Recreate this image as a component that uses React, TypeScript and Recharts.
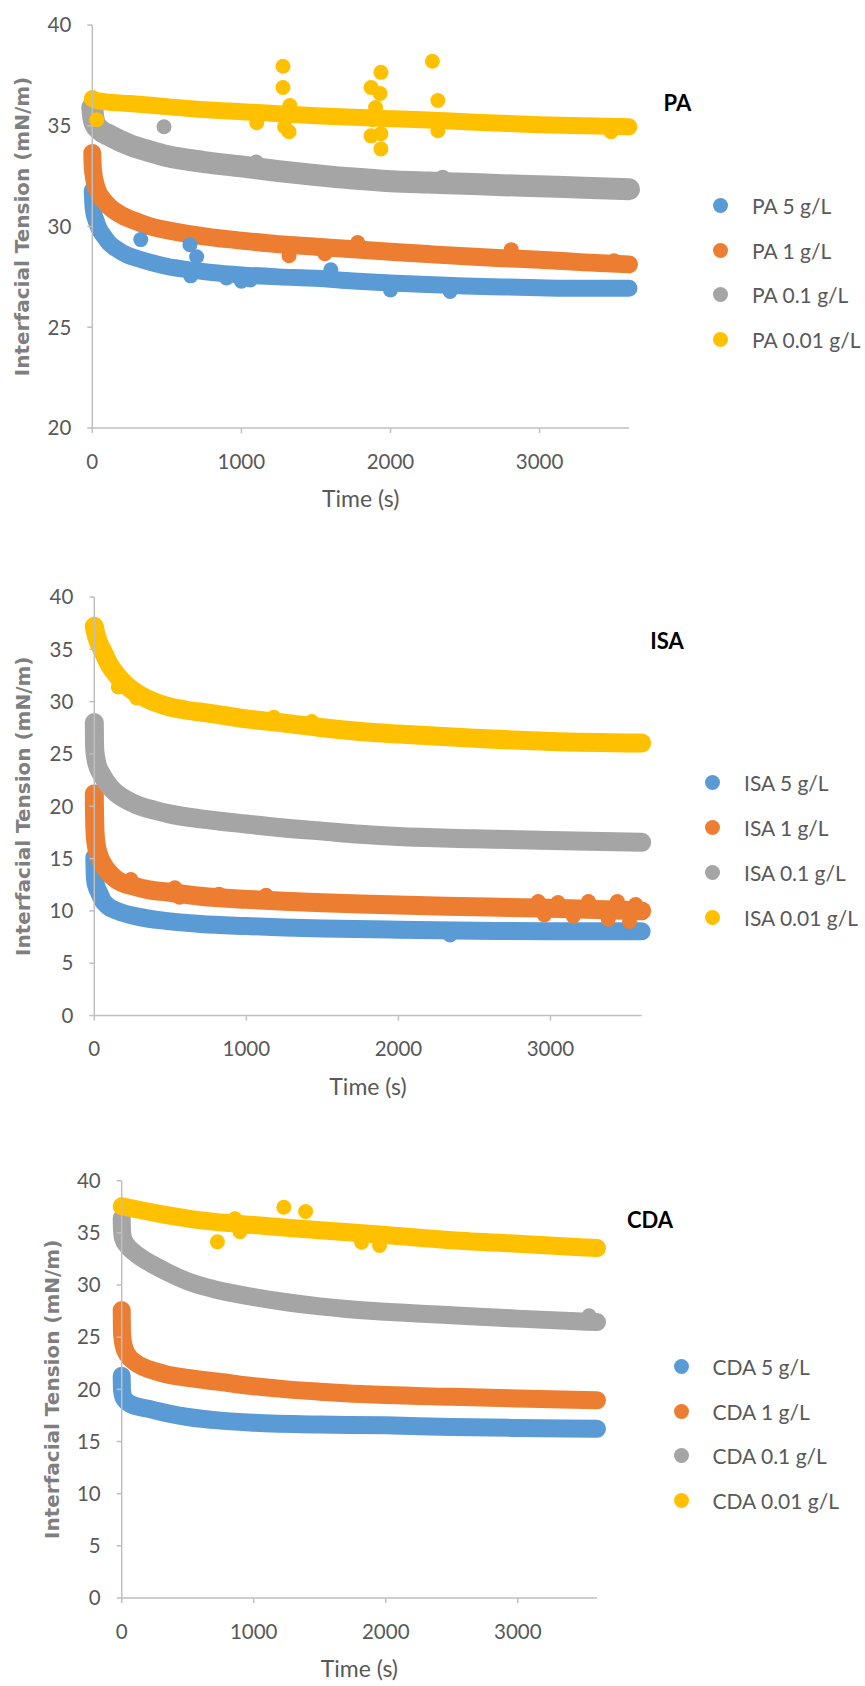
import React from 'react';
import { ComposedChart, Line, Scatter, XAxis, YAxis, Legend, Label } from 'recharts';

type Pt = [number, number];

// Office palette: 5 g/L, 1 g/L, 0.1 g/L, 0.01 g/L
const COLORS = ['#5B9BD5', '#ED7D31', '#A5A5A5', '#FFC000'];
const AXIS = '#BFBFBF';
const TEXT = '#595959';

const concLabels = ['5 g/L', '1 g/L', '0.1 g/L', '0.01 g/L'];
const timeTicks = [0, 1000, 2000, 3000];
const paTicks = [20, 25, 30, 35, 40];
const fullTicks = [0, 5, 10, 15, 20, 25, 30, 35, 40];

// ---- PA ----
const pa5: Pt[] = [[0, 31.8], [3, 31.2], [10, 30.7], [25, 30.3], [45, 29.9], [75, 29.55], [110, 29.2], [160, 28.9], [230, 28.6], [307, 28.4], [400, 28.2], [500, 28.02], [650, 27.85], [800, 27.72], [1000, 27.6], [1250, 27.5], [1500, 27.43], [1750, 27.3], [2000, 27.2], [2250, 27.12], [2500, 27.05], [2750, 27.0], [3000, 26.96], [3300, 26.93], [3600, 26.93]];
const pa5Extra: Pt[] = [[325, 29.35], [655, 29.1], [700, 28.5], [660, 27.55], [900, 27.45], [1000, 27.28], [1060, 27.35], [1600, 27.85], [2000, 26.85], [2400, 26.78]];
const pa1: Pt[] = [[0, 33.65], [2, 33.1], [8, 32.6], [20, 32.15], [40, 31.7], [70, 31.35], [120, 30.95], [200, 30.55], [307, 30.22], [400, 29.98], [500, 29.82], [650, 29.62], [800, 29.46], [1000, 29.3], [1250, 29.12], [1500, 29.0], [1750, 28.87], [2000, 28.75], [2250, 28.63], [2500, 28.52], [2750, 28.43], [3000, 28.35], [3300, 28.22], [3600, 28.12]];
const pa1Extra: Pt[] = [[1320, 28.55], [1560, 28.65], [1780, 29.2], [2810, 28.85], [3500, 28.3]];
const pa01: Pt[] = [[0, 35.9], [5, 35.5], [18, 35.1], [50, 34.8], [120, 34.5], [250, 34.05], [400, 33.7], [500, 33.5], [750, 33.2], [1000, 32.98], [1250, 32.75], [1500, 32.55], [1750, 32.38], [2000, 32.25], [2250, 32.18], [2500, 32.12], [2750, 32.05], [3000, 32.0], [3300, 31.92], [3600, 31.85]];
const pa01Extra: Pt[] = [[481, 34.95], [1100, 33.2], [2350, 32.45]];
const pa001: Pt[] = [[0, 36.35], [30, 36.25], [250, 36.1], [500, 35.95], [750, 35.8], [1000, 35.7], [1250, 35.6], [1500, 35.5], [1750, 35.42], [2000, 35.35], [2250, 35.28], [2500, 35.2], [2750, 35.12], [3000, 35.05], [3300, 35.0], [3600, 34.95]];
const pa001Extra: Pt[] = [[30, 35.3], [1103, 35.15], [1279, 37.95], [1279, 36.9], [1325, 36.0], [1290, 34.95], [1320, 34.7], [1870, 36.9], [1936, 37.65], [1930, 36.6], [1900, 35.9], [1880, 35.3], [1870, 34.5], [1936, 34.6], [1936, 33.85], [2281, 38.2], [2318, 36.25], [2318, 34.75], [3480, 34.7]];

// ---- ISA ----
const isa5: Pt[] = [[0, 15.1], [2, 13.9], [5, 13.0], [15, 12.3], [30, 11.8], [55, 11.0], [85, 10.5], [150, 10.0], [285, 9.45], [467, 9.05], [700, 8.75], [1000, 8.55], [1250, 8.42], [1500, 8.32], [2000, 8.2], [2500, 8.1], [3000, 8.05], [3600, 8.05]];
const isa5Extra: Pt[] = [[2340, 7.7]];
const isa1: Pt[] = [[0, 21.2], [1, 19.8], [3, 18.2], [10, 16.6], [30, 15.3], [55, 14.5], [100, 13.6], [155, 12.9], [250, 12.4], [360, 12.0], [480, 11.8], [700, 11.4], [1000, 11.1], [1250, 10.92], [1500, 10.78], [1750, 10.65], [2000, 10.55], [2500, 10.4], [3000, 10.25], [3600, 10.0]];
const isa1Extra: Pt[] = [[240, 13.0], [530, 12.2], [560, 11.3], [820, 11.6], [1130, 11.5], [2920, 10.9], [2960, 9.6], [3050, 10.8], [3150, 9.5], [3250, 10.9], [3380, 9.2], [3440, 10.9], [3520, 9.0], [3560, 10.6]];
const isa01: Pt[] = [[0, 28.0], [1, 26.5], [3, 25.4], [15, 24.2], [50, 23.0], [100, 21.9], [140, 21.3], [200, 20.7], [285, 20.1], [400, 19.6], [500, 19.25], [700, 18.8], [1000, 18.3], [1250, 17.92], [1500, 17.62], [1750, 17.32], [2000, 17.1], [2500, 16.9], [3000, 16.72], [3600, 16.55]];
const isa001: Pt[] = [[0, 37.2], [10, 36.5], [30, 35.6], [60, 34.7], [100, 33.5], [150, 32.5], [200, 31.7], [260, 31.0], [350, 30.25], [470, 29.6], [600, 29.2], [750, 28.9], [1000, 28.35], [1250, 27.95], [1500, 27.5], [1750, 27.15], [2000, 26.9], [2500, 26.5], [3000, 26.2], [3600, 26.05]];
const isa001Extra: Pt[] = [[158, 31.4], [279, 30.35], [1181, 28.5], [1430, 28.1], [1550, 27.3]];

// ---- CDA ----
const cda5: Pt[] = [[0, 21.3], [2, 20.0], [15, 19.2], [66, 18.6], [210, 18.12], [350, 17.7], [500, 17.35], [750, 17.0], [1000, 16.8], [1500, 16.62], [2000, 16.55], [2500, 16.38], [3000, 16.3], [3600, 16.22]];
const cda1: Pt[] = [[0, 27.6], [1, 26.3], [3, 25.3], [15, 24.2], [45, 23.3], [100, 22.6], [170, 22.1], [250, 21.75], [335, 21.45], [500, 21.1], [750, 20.7], [1000, 20.3], [1250, 20.0], [1500, 19.78], [2000, 19.45], [2500, 19.28], [3000, 19.12], [3600, 18.95]];
const cda01: Pt[] = [[0, 36.4], [2, 35.3], [10, 34.5], [40, 33.8], [87, 33.2], [150, 32.6], [230, 32.0], [350, 31.2], [500, 30.35], [700, 29.6], [1000, 28.85], [1250, 28.35], [1500, 27.95], [1750, 27.65], [2000, 27.43], [2500, 27.1], [3000, 26.78], [3600, 26.45]];
const cda01Extra: Pt[] = [[3540, 27.05]];
const cda001: Pt[] = [[0, 37.55], [300, 36.8], [600, 36.2], [850, 35.9], [1000, 35.75], [1500, 35.25], [2000, 34.8], [2500, 34.3], [3000, 33.95], [3600, 33.55]];
const cda001Extra: Pt[] = [[725, 34.15], [1228, 37.45], [1393, 37.05], [858, 36.35], [896, 35.1], [1817, 34.1], [1953, 33.8]];

const toRows = (pts: Pt[]) => pts.map(([t, v]) => ({ t, v }));

const panels = [
  {
    name: 'PA', top: 0, height: 520, yDomain: [20, 40], yTicks: paTicks, yTitleX: 22,
    margin: { top: 25, right: 236, bottom: 52, left: 32.3 },
    series: [pa5, pa1, pa01, pa001], extras: [pa5Extra, pa1Extra, pa01Extra, pa001Extra],
    widths: [17, 18, 22, 17],
    legend: { x: 713, y: 183, step: 44.7 }, title: { x: 677.5, y: 102 },
  },
  {
    name: 'ISA', top: 560, height: 560, yDomain: [0, 40], yTicks: fullTicks, yTitleX: 23,
    margin: { top: 37, right: 223.3, bottom: 64.5, left: 34.3 },
    series: [isa5, isa1, isa01, isa001], extras: [isa5Extra, isa1Extra, [], isa001Extra],
    widths: [18, 19, 19, 19],
    legend: { x: 705, y: 200, step: 45 }, title: { x: 667, y: 80 },
  },
  {
    name: 'CDA', top: 1140, height: 546, yDomain: [0, 40], yTicks: fullTicks, yTitleX: 52,
    margin: { top: 40.7, right: 268, bottom: 48, left: 61.7 },
    series: [cda5, cda1, cda01, cda001], extras: [[], [], cda01Extra, cda001Extra],
    widths: [18, 18, 18, 18],
    legend: { x: 673.5, y: 204, step: 44.8 }, title: { x: 650, y: 79 },
  },
];

const tickStyle = { fill: TEXT, fontSize: 20.5, fontFamily: 'Lato' };

const Dot = (props: any) => <circle cx={props.cx} cy={props.cy} r={7.5} fill={props.fill} />;

const Panel = ({ p }: { p: (typeof panels)[number] }) => {
  const marks: React.ReactElement[] = [];
  p.series.forEach((pts, i) => {
    marks.push(
      <Line key={`l${i}`} data={toRows(pts)} dataKey="v" name={`${p.name} ${concLabels[i]}`} type="monotone"
        stroke={COLORS[i]} strokeWidth={p.widths[i]} strokeLinecap="round" strokeLinejoin="round"
        dot={false} activeDot={false} isAnimationActive={false} />
    );
    if (p.extras[i].length) {
      marks.push(
        <Scatter key={`s${i}`} data={toRows(p.extras[i] as Pt[])} dataKey="v" fill={COLORS[i]}
          shape={Dot} legendType="none" isAnimationActive={false} />
      );
    }
  });

  return (
    <div style={{ position: 'absolute', left: 0, top: p.top, width: 865, height: p.height }}>
      <ComposedChart width={865} height={p.height} margin={p.margin}>
        <XAxis type="number" dataKey="t" domain={[0, 3600]} ticks={timeTicks} interval={0} height={40}
          axisLine={{ stroke: AXIS, strokeWidth: 1.5 }} tickLine={{ stroke: AXIS, strokeWidth: 1.5 }}
          tickSize={5} tickMargin={21} tick={tickStyle}>
          <Label content={(lp: any) => {
            const vb = lp.viewBox;
            return (
              <text x={vb.x + vb.width / 2} y={vb.y + 70} textAnchor="middle" dominantBaseline="central"
                fill={TEXT} fontSize={23} fontFamily="Lato">Time (s)</text>
            );
          }} />
        </XAxis>
        <YAxis type="number" domain={p.yDomain} ticks={p.yTicks} interval={0} width={60}
          axisLine={{ stroke: AXIS, strokeWidth: 1.5 }} tickLine={{ stroke: AXIS, strokeWidth: 1.5 }}
          tickSize={5} tickMargin={16} tick={tickStyle}>
          <Label content={(lp: any) => {
            const vb = lp.viewBox;
            const cy = vb.y + vb.height / 2;
            return (
              <text x={p.yTitleX} y={cy} transform={`rotate(-90 ${p.yTitleX} ${cy})`} textAnchor="middle"
                dominantBaseline="central" fill="#7F7F7F" fontSize={20} fontWeight="bold"
                fontFamily="DejaVu Sans">Interfacial Tension (mN/m)</text>
            );
          }} />
        </YAxis>
        {marks}
        <Legend layout="horizontal" align="center" verticalAlign="middle"
          wrapperStyle={{ left: p.legend.x, top: p.legend.y, width: 170 }}
          content={() => (
            <div>
              {concLabels.map((c, i) => (
                <div key={c} style={{ display: 'flex', alignItems: 'center', height: p.legend.step }}>
                  <span style={{ width: 15, height: 15, borderRadius: '50%', background: COLORS[i], display: 'inline-block' }} />
                  <span style={{ marginLeft: 24, fontFamily: 'Lato', fontSize: 21, color: TEXT, whiteSpace: 'nowrap' }}>
                    {`${p.name} ${c}`}
                  </span>
                </div>
              ))}
            </div>
          )} />
      </ComposedChart>
      <div style={{
        position: 'absolute', left: p.title.x, top: p.title.y, transform: 'translate(-50%, -50%)',
        fontFamily: 'Lato', fontWeight: 'bold', fontSize: 22, color: '#000',
      }}>{p.name}</div>
    </div>
  );
};

export default function App() {
  return (
    <div style={{ position: 'absolute', left: 0, top: 0, width: 865, height: 1686, background: '#fff' }}>
      {panels.map((p) => <Panel key={p.name} p={p} />)}
    </div>
  );
}
